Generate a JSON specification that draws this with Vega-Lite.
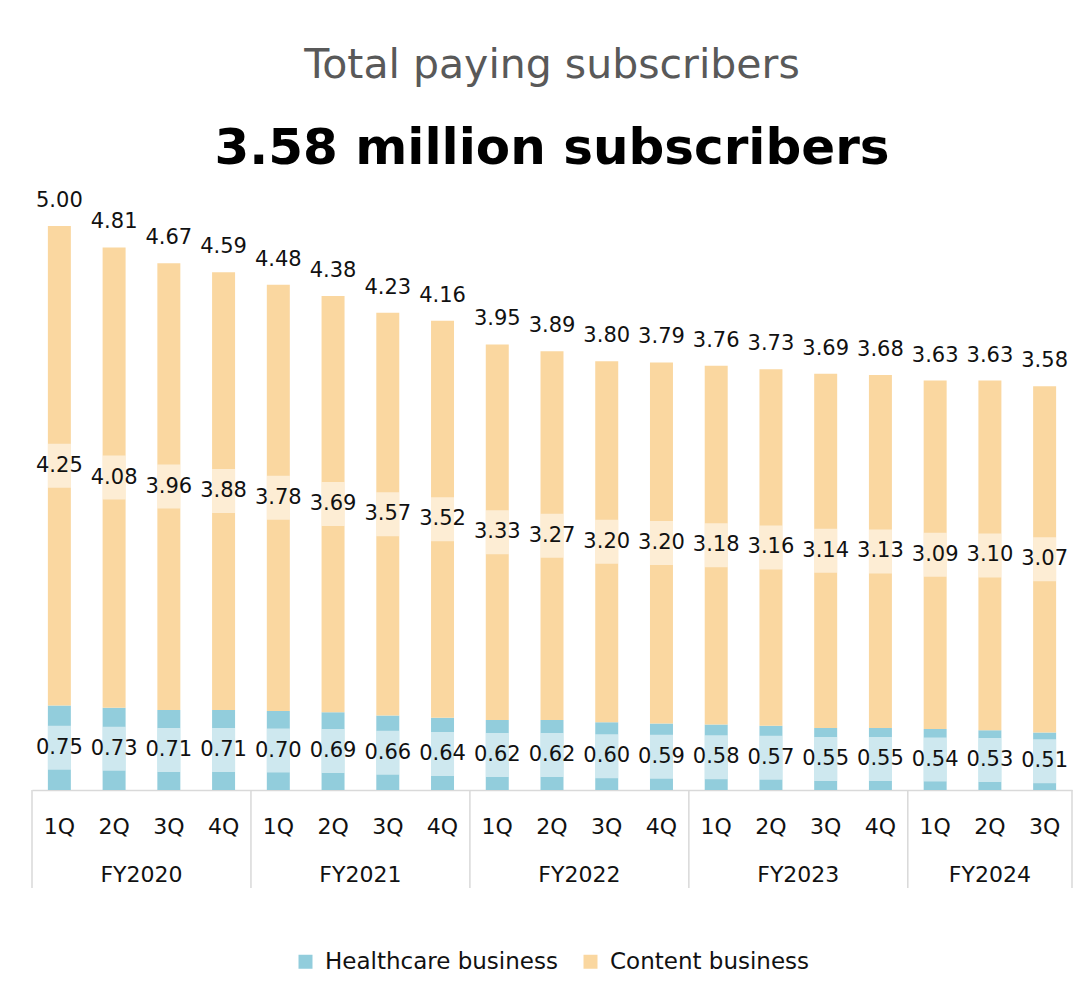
{
  "$schema": "https://vega.github.io/schema/vega-lite/v6.json",
  "width": 1040,
  "height": 564,
  "autosize": {"type": "none"},
  "padding": {"left": 32, "top": 226, "right": 14, "bottom": 207},
  "background": "white",
  "config": {"font": "DejaVu Sans", "view": {"stroke": null}},
  "title": {
    "text": "Total paying subscribers",
    "subtitle": "3.58 million subscribers",
    "anchor": "middle",
    "fontSize": 41,
    "fontWeight": "normal",
    "color": "#595959",
    "subtitleFontSize": 50,
    "subtitleFontWeight": "bold",
    "subtitleColor": "#000000",
    "subtitlePadding": 37,
    "offset": 15
  },
  "data": {
    "values": [
      {"period": "FY2020 1Q", "fy": "FY2020", "q": "1Q", "series": "Healthcare business", "value": 0.75},
      {"period": "FY2020 1Q", "fy": "FY2020", "q": "1Q", "series": "Content business", "value": 4.25},
      {"period": "FY2020 2Q", "fy": "FY2020", "q": "2Q", "series": "Healthcare business", "value": 0.73},
      {"period": "FY2020 2Q", "fy": "FY2020", "q": "2Q", "series": "Content business", "value": 4.08},
      {"period": "FY2020 3Q", "fy": "FY2020", "q": "3Q", "series": "Healthcare business", "value": 0.71},
      {"period": "FY2020 3Q", "fy": "FY2020", "q": "3Q", "series": "Content business", "value": 3.96},
      {"period": "FY2020 4Q", "fy": "FY2020", "q": "4Q", "series": "Healthcare business", "value": 0.71},
      {"period": "FY2020 4Q", "fy": "FY2020", "q": "4Q", "series": "Content business", "value": 3.88},
      {"period": "FY2021 1Q", "fy": "FY2021", "q": "1Q", "series": "Healthcare business", "value": 0.70},
      {"period": "FY2021 1Q", "fy": "FY2021", "q": "1Q", "series": "Content business", "value": 3.78},
      {"period": "FY2021 2Q", "fy": "FY2021", "q": "2Q", "series": "Healthcare business", "value": 0.69},
      {"period": "FY2021 2Q", "fy": "FY2021", "q": "2Q", "series": "Content business", "value": 3.69},
      {"period": "FY2021 3Q", "fy": "FY2021", "q": "3Q", "series": "Healthcare business", "value": 0.66},
      {"period": "FY2021 3Q", "fy": "FY2021", "q": "3Q", "series": "Content business", "value": 3.57},
      {"period": "FY2021 4Q", "fy": "FY2021", "q": "4Q", "series": "Healthcare business", "value": 0.64},
      {"period": "FY2021 4Q", "fy": "FY2021", "q": "4Q", "series": "Content business", "value": 3.52},
      {"period": "FY2022 1Q", "fy": "FY2022", "q": "1Q", "series": "Healthcare business", "value": 0.62},
      {"period": "FY2022 1Q", "fy": "FY2022", "q": "1Q", "series": "Content business", "value": 3.33},
      {"period": "FY2022 2Q", "fy": "FY2022", "q": "2Q", "series": "Healthcare business", "value": 0.62},
      {"period": "FY2022 2Q", "fy": "FY2022", "q": "2Q", "series": "Content business", "value": 3.27},
      {"period": "FY2022 3Q", "fy": "FY2022", "q": "3Q", "series": "Healthcare business", "value": 0.60},
      {"period": "FY2022 3Q", "fy": "FY2022", "q": "3Q", "series": "Content business", "value": 3.20},
      {"period": "FY2022 4Q", "fy": "FY2022", "q": "4Q", "series": "Healthcare business", "value": 0.59},
      {"period": "FY2022 4Q", "fy": "FY2022", "q": "4Q", "series": "Content business", "value": 3.20},
      {"period": "FY2023 1Q", "fy": "FY2023", "q": "1Q", "series": "Healthcare business", "value": 0.58},
      {"period": "FY2023 1Q", "fy": "FY2023", "q": "1Q", "series": "Content business", "value": 3.18},
      {"period": "FY2023 2Q", "fy": "FY2023", "q": "2Q", "series": "Healthcare business", "value": 0.57},
      {"period": "FY2023 2Q", "fy": "FY2023", "q": "2Q", "series": "Content business", "value": 3.16},
      {"period": "FY2023 3Q", "fy": "FY2023", "q": "3Q", "series": "Healthcare business", "value": 0.55},
      {"period": "FY2023 3Q", "fy": "FY2023", "q": "3Q", "series": "Content business", "value": 3.14},
      {"period": "FY2023 4Q", "fy": "FY2023", "q": "4Q", "series": "Healthcare business", "value": 0.55},
      {"period": "FY2023 4Q", "fy": "FY2023", "q": "4Q", "series": "Content business", "value": 3.13},
      {"period": "FY2024 1Q", "fy": "FY2024", "q": "1Q", "series": "Healthcare business", "value": 0.54},
      {"period": "FY2024 1Q", "fy": "FY2024", "q": "1Q", "series": "Content business", "value": 3.09},
      {"period": "FY2024 2Q", "fy": "FY2024", "q": "2Q", "series": "Healthcare business", "value": 0.53},
      {"period": "FY2024 2Q", "fy": "FY2024", "q": "2Q", "series": "Content business", "value": 3.10},
      {"period": "FY2024 3Q", "fy": "FY2024", "q": "3Q", "series": "Healthcare business", "value": 0.51},
      {"period": "FY2024 3Q", "fy": "FY2024", "q": "3Q", "series": "Content business", "value": 3.07}
    ]
  },
  "transform": [
    {"stack": "value", "groupby": ["period"], "sort": [{"field": "series", "order": "descending"}], "as": ["v0", "v1"]},
    {"calculate": "(datum.v0 + datum.v1) / 2", "as": "mid"}
  ],
  "encoding": {
    "x": {
      "field": "period",
      "type": "nominal",
      "sort": null,
      "scale": {"paddingInner": 0, "paddingOuter": 0},
      "axis": {
        "title": null,
        "labelExpr": "split(datum.label, ' ')[1]",
        "labelAngle": 0,
        "labelFontSize": 22,
        "labelColor": "#111111",
        "labelPadding": 26,
        "ticks": false,
        "domainColor": "#d9d9d9",
        "domainWidth": 1.5,
        "grid": false
      }
    }
  },
  "layer": [
    {
      "mark": {"type": "bar", "width": {"band": 0.42}},
      "encoding": {
        "y": {"field": "v0", "type": "quantitative", "scale": {"domain": [0, 5]}, "axis": null},
        "y2": {"field": "v1"},
        "color": {
          "field": "series",
          "type": "nominal",
          "scale": {"domain": ["Healthcare business", "Content business"], "range": ["#92CDDC", "#FAD7A0"]},
          "legend": {
            "orient": "none",
            "legendX": 262,
            "legendY": 724,
            "direction": "horizontal",
            "title": null,
            "symbolType": "square",
            "symbolSize": 196,
            "symbolStrokeWidth": 0,
            "labelFontSize": 23,
            "labelLimit": 0,
            "labelColor": "#111111",
            "columnPadding": 21,
            "labelOffset": 8
          }
        }
      }
    },
    {
      "mark": {"type": "bar", "width": {"band": 0.42}, "color": "white", "opacity": 0.55, "yOffset": -22, "y2Offset": 22},
      "encoding": {
        "y": {"field": "mid", "type": "quantitative"},
        "y2": {"field": "mid"}
      }
    },
    {
      "mark": {"type": "text", "fontSize": 21, "baseline": "middle", "color": "#111111"},
      "encoding": {
        "y": {"field": "mid", "type": "quantitative"},
        "text": {"field": "value", "type": "quantitative", "format": ".2f"}
      }
    },
    {
      "transform": [{"filter": "datum.series === 'Content business'"}],
      "mark": {"type": "text", "fontSize": 21, "baseline": "alphabetic", "dy": -19, "color": "#111111"},
      "encoding": {
        "y": {"field": "v1", "type": "quantitative"},
        "text": {"field": "v1", "type": "quantitative", "format": ".2f"}
      }
    },
    {
      "transform": [{"filter": "datum.series === 'Healthcare business' && datum.q === '1Q'"}],
      "mark": {"type": "rule", "color": "#d9d9d9", "strokeWidth": 1.5, "y2Offset": 98},
      "encoding": {
        "x": {"field": "period", "type": "nominal", "sort": null, "bandPosition": 0},
        "y": {"datum": 0, "type": "quantitative"},
        "y2": {"datum": 0}
      }
    },
    {
      "transform": [{"filter": "datum.series === 'Healthcare business' && datum.period === 'FY2024 3Q'"}],
      "mark": {"type": "rule", "color": "#d9d9d9", "strokeWidth": 1.5, "y2Offset": 98},
      "encoding": {
        "x": {"field": "period", "type": "nominal", "sort": null, "bandPosition": 1},
        "y": {"datum": 0, "type": "quantitative"},
        "y2": {"datum": 0}
      }
    },
    {
      "transform": [{"filter": "datum.series === 'Healthcare business' && datum.q === '3Q' && datum.fy !== 'FY2024'"}],
      "mark": {"type": "text", "fontSize": 22, "baseline": "middle", "dy": 85, "color": "#111111"},
      "encoding": {
        "x": {"field": "period", "type": "nominal", "sort": null, "bandPosition": 0},
        "y": {"datum": 0, "type": "quantitative"},
        "text": {"field": "fy"}
      }
    },
    {
      "transform": [{"filter": "datum.series === 'Healthcare business' && datum.period === 'FY2024 2Q'"}],
      "mark": {"type": "text", "fontSize": 22, "baseline": "middle", "dy": 85, "color": "#111111"},
      "encoding": {
        "x": {"field": "period", "type": "nominal", "sort": null, "bandPosition": 0.5},
        "y": {"datum": 0, "type": "quantitative"},
        "text": {"field": "fy"}
      }
    }
  ]
}
